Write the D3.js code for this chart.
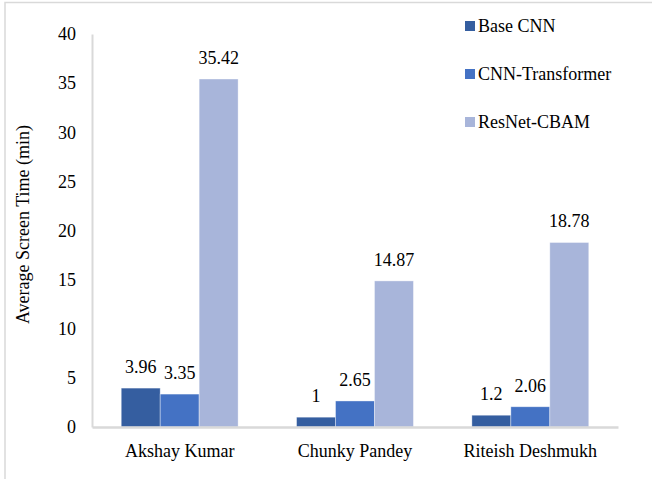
<!DOCTYPE html>
<html>
<head>
<meta charset="utf-8">
<script src="https://cdn.jsdelivr.net/npm/d3@7"></script>
<style>
  html, body { margin: 0; padding: 0; background: #fff; }
  svg { display: block; }
  svg text { fill: #000; }
</style>
</head>
<body>
<svg id="chart" width="652" height="479"></svg>
<script>
// Average screen time per actor, by detection model
const actors = ["Akshay Kumar", "Chunky Pandey", "Riteish Deshmukh"];
const models = ["Base CNN", "CNN-Transformer", "ResNet-CBAM"];
const baseCnn = [3.96, 1, 1.2];
const cnnTransformer = [3.35, 2.65, 2.06];
const resnetCbam = [35.42, 14.87, 18.78];
const yTicks = [0, 5, 10, 15, 20, 25, 30, 35, 40];
const colors = ["#355EA0", "#4472C4", "#A8B5DA"];
const FONT = "'Liberation Serif', 'Times New Roman', Times, 'Nimbus Roman', Tinos, 'Noto Serif', 'DejaVu Serif', serif";

const seriesValues = [baseCnn, cnnTransformer, resnetCbam];
const rows = actors.map((a, i) => ({
  actor: a,
  values: models.map((m, j) => ({ model: m, value: seriesValues[j][i], k: j }))
}));

const svg = d3.select("#chart").style("font-family", FONT);
const margin = { left: 92, right: 34, top: 34, bottom: 52 };
const W = 652, H = 479;

const x = d3.scaleBand().domain(actors)
  .range([margin.left, W - margin.right])
  .paddingInner(1 / 3).paddingOuter(1 / 6);
const xs = d3.scaleBand().domain(models).range([0, x.bandwidth()]);
const y = d3.scaleLinear().domain([0, 40]).range([H - margin.bottom, margin.top]);

// outer frame
svg.append("path")
  .attr("d", `M5,${H} L5,2.5 L${W},2.5`)
  .attr("fill", "none").attr("stroke", "#d9d9d9").attr("stroke-width", 1.5);

// y axis
const yAxis = svg.append("g").attr("transform", `translate(${margin.left},0)`)
  .call(d3.axisLeft(y).tickValues(yTicks).tickSize(0).tickPadding(16))
  .attr("font-family", null).attr("font-size", 18);
yAxis.select(".domain").attr("stroke", "#d9d9d9").attr("stroke-width", 2);

// bars
const groups = svg.append("g").selectAll("g").data(rows).join("g")
  .attr("transform", d => `translate(${x(d.actor)},0)`);

groups.selectAll("rect").data(d => d.values).join("rect")
  .attr("x", d => xs(d.model))
  .attr("width", xs.bandwidth())
  .attr("y", d => y(d.value))
  .attr("height", d => y(0) - y(d.value))
  .attr("fill", d => colors[d.k])
  .attr("stroke", "#ffffff").attr("stroke-opacity", 0.5).attr("stroke-width", 0.75);

groups.selectAll("text.val").data(d => d.values).join("text")
  .attr("class", "val")
  .attr("x", d => xs(d.model) + xs.bandwidth() / 2)
  .attr("y", d => y(d.value) - 15)
  .attr("text-anchor", "middle")
  .attr("font-size", 18)
  .text(d => d.value);

// x axis
const xAxis = svg.append("g").attr("transform", `translate(0,${y(0)})`)
  .call(d3.axisBottom(x).tickSize(0).tickPadding(17))
  .attr("font-family", null).attr("font-size", 18);
xAxis.select(".domain").attr("stroke", "#d9d9d9").attr("stroke-width", 2.5);

// y axis title
svg.append("text")
  .attr("transform", `translate(29,${(y(0) + y(40)) / 2 - 6}) rotate(-90)`)
  .attr("text-anchor", "middle")
  .attr("font-size", 18)
  .text("Average Screen Time (min)");

// legend
const legend = svg.append("g").selectAll("g").data(models).join("g")
  .attr("transform", (d, i) => `translate(465,${26 + i * 48})`);
legend.append("rect").attr("x", 0).attr("y", -5).attr("width", 10).attr("height", 10)
  .attr("fill", (d, i) => colors[i]);
legend.append("text").attr("x", 13).attr("y", 0).attr("dy", "0.35em")
  .attr("font-size", 18).text(d => d);
</script>
</body>
</html>
